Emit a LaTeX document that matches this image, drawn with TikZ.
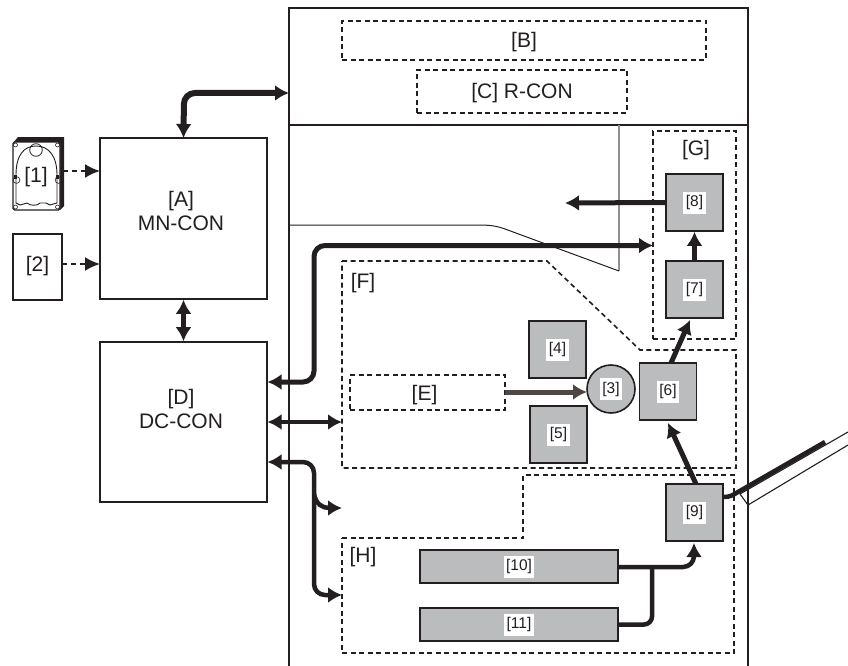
\documentclass[tikz,border=0pt]{standalone}
\usepackage{fontspec}
\setmainfont{Liberation Sans}
\usetikzlibrary{arrows.meta}
\definecolor{ink}{HTML}{231F20}
\definecolor{boxgray}{HTML}{BBBCBE}
\definecolor{feedbrown}{HTML}{4D4642}
\newcommand{\bigtext}{\fontsize{21}{24.5}\selectfont}
\newcommand{\smalltext}{\fontsize{15.5}{18}\selectfont}
\newcommand{\whitetag}[1]{\setlength{\fboxsep}{2.5pt}\colorbox{white}{\rule[-4.5pt]{0pt}{17pt}#1}}
\tikzset{
	conbox/.style={draw=ink,line width=1.6pt,fill=white,inner sep=0pt},
	graybox/.style={draw=ink,line width=1.6pt,fill=boxgray,inner sep=0pt,minimum width=57pt,minimum height=57pt,font=\smalltext,text=ink},
	dashbox/.style={draw=ink,dash pattern=on 5pt off 3.5pt,line width=1.6pt,inner sep=0pt,font=\bigtext,text=ink,text height=19pt,text depth=4pt},
	tagtext/.style={inner sep=0pt,font=\bigtext,text=ink,text height=19pt,text depth=4pt},
	context/.style={inner sep=0pt,font=\bigtext,text=ink,align=center},
	dashzone/.style={draw=ink,dash pattern=on 5pt off 3.5pt,line width=1.6pt},
	bus/.style={draw=ink,line width=5pt,-{Latex[length=14pt,width=16pt]},rounded corners=11pt},
	bibus/.style={draw=ink,line width=5pt,{Latex[length=14pt,width=16pt]}-{Latex[length=14pt,width=16pt]},rounded corners=11pt},
	signal/.style={draw=ink,line width=2pt,dash pattern=on 5pt off 4pt,-{Latex[length=15pt,width=14pt]}},
	frameline/.style={draw=ink,line width=1.5pt}
}
\begin{document}
\begin{tikzpicture}[x=1pt,y=-1pt]
\useasboundingbox (0,0) rectangle (848,666);

% machine frame
\draw[frameline] (289,666) -- (289,8) -- (748,8) -- (748,666);
\draw[draw=ink,line width=2.2pt] (289,125) -- (748,125);
\draw[draw=ink!50,line width=1.2pt] (619,125) -- (619,271);
\draw[draw=ink,line width=1pt] (289,225) -- (478,225) .. controls (490,225) and (497,226) .. (505,229) -- (619,271);

% zones
\draw[dashzone] (342,261) -- (547,261) -- (640,350) -- (736,350) -- (736,468) -- (342,468) -- cycle;
\draw[dashzone] (342,538) -- (523,538) -- (523,475) -- (734,475) -- (734,653) -- (342,653) -- cycle;
\node[tagtext] (labF) at (363,281) {[F]};
\node[tagtext] (labH) at (363,555) {[H]};

% controllers
\node[conbox,minimum width=167pt,minimum height=161pt] (mncon) at (183.5,218.5) {};
\node[conbox,minimum width=167pt,minimum height=160pt] (dccon) at (183.5,422) {};
\node[context] (mnlab) at (181,211) {[A]\\MN-CON};
\node[context] (dclab) at (181,409) {[D]\\DC-CON};
\node[dashbox,line width=2.8pt,minimum width=364pt,minimum height=39pt] (boxB) at (524,40.5) {[B]};
\node[dashbox,line width=2.2pt,minimum width=210pt,minimum height=43pt] (rcon) at (522,91.5) {[C] R-CON};
\node[dashbox,minimum width=155pt,minimum height=35pt] (boxE) at (427.5,392.5) {\hspace*{-6pt}[E]};
\node[dashbox,minimum width=83pt,minimum height=208pt] (zoneG) at (694.5,235) {};
\node[tagtext] (labG) at (696,148) {[G]};
\node[conbox,minimum width=49pt,minimum height=66pt] (ram) at (37.5,267) {};
\node[tagtext] (ramlab) at (37.5,264) {[2]};

% hard disk
\fill[ink] (13,143) -- (18,137) -- (64,137) -- (64,206) -- (60,210) -- (60,143) -- cycle;
\draw[ink,fill=white,line width=1.2pt,rounded corners=1.5pt] (13,142) rectangle (60,210);
\draw[ink,line width=0.9pt] (16,175) .. controls (16,155) and (24,146) .. (36,146) .. controls (48,146) and (57,155) .. (57,175)
	-- (57,203) -- (50,205) -- (46,203) -- (40,203) .. controls (38,206) and (30,206) .. (27,203) -- (20,205) -- (16,203) -- cycle;
\draw[ink,line width=0.8pt] (36,150) circle (6.3);
\foreach \x/\y in {15.5/145,57.5/145,15.5/207,57.5/207}
	\draw[ink,line width=0.6pt] (\x,\y) circle (2);
\foreach \x in {15.5,57.5}{
	\fill[ink] (\x-1.5,175) rectangle (\x+1.5,179);
	\draw[ink,line width=0.6pt] (\x+1,180) circle (3.4);
}
\node[tagtext] (hdd) at (36,175) {[1]};

% gray units
\foreach \name/\x/\y/\lab in {unitD/694.5/202.5/8, unitC/694.5/289.5/7, unitF/668/391.5/6,
	unitA/557.5/349.5/4, unitB/558.5/434.5/5, unitR/694.5/512.5/9}
	\node[graybox] (\name) at (\x,\y) {\whitetag{[\lab]}};
\node[graybox,minimum width=198pt,minimum height=33pt] (unitT) at (519,566.5) {\whitetag{[10]}};
\node[graybox,minimum width=198pt,minimum height=33pt] (unitU) at (519,624.5) {\whitetag{[11]}};
\node[graybox,circle,minimum width=48pt,minimum height=48pt] (drum) at (611,389) {\whitetag{[3]}};

% paper tray
\coordinate (trayA) at (740,494);
\coordinate (trayB) at (748,505);
\draw[ink,line width=1.1pt] (848,432) -- (trayA) -- (trayB) -- (848,445);
\coordinate (trayEnd) at (825,442);
\draw[draw=ink,line width=4.5pt] (unitR.east |- 0,497) .. controls (730,497) and (733,495) .. (738,492) -- (trayEnd);

% free ends of the connectors
\coordinate (hddOut) at (63,171);
\coordinate (hddIn) at (100,171);
\coordinate (ramIn) at (100,264);
\coordinate (ramOut) at (62,264);
\coordinate (upBus) at (289,93);
\coordinate (exitEnd) at (565,203);
\coordinate (dA) at (267.5,382);
\coordinate (gIn) at (653,245.5);
\coordinate (dB) at (267.5,422);
\coordinate (fIn) at (342,422);
\coordinate (dC) at (267.5,462);
\coordinate (stubIn) at (342,508);
\coordinate (hIn) at (342,595);
\coordinate (eOut) at (505,392);
\coordinate (drumIn) at (587,392);
\coordinate (tOut) at (618,567);
\coordinate (uOut) at (618,624.5);
\coordinate (rIn) at (694,543);

% signals and paths
\draw[signal] (hddOut) -- (hddIn);
\draw[signal] (ramOut) -- (ramIn);
\draw[bibus,line width=6pt] (upBus) -- (184,93) -- (mncon.south |- 0,138);
\draw[bibus] (mncon.south) -- (dccon.north);
\draw[bibus] (dA) -- (314,382) -- (314,245.5) -- (gIn);
\draw[bibus,line width=4pt] (dB) -- (fIn);
\draw[bibus,line width=4.5pt] (dC) -- (314,462) -- (314,595) -- (hIn);
\draw[bus,line width=4.5pt,rounded corners=0pt] (314,494) .. controls (316,504) and (322,508) .. (stubIn);
\draw[bus] (unitD.west) -- (exitEnd);
\draw[bus] (unitC.north) -- (unitD.south);
\draw[bus] (671,363) -- (690,320);
\draw[bus] (696,484) -- (668,423);
\draw[draw=feedbrown,line width=5pt,-{Latex[length=14pt,width=16pt]}] (eOut) -- (drumIn);
\draw[draw=ink,line width=4.5pt,rounded corners=8pt] (uOut) -- (652,624.5) -- (652,567);
\draw[bus,line width=4.5pt] (tOut) -- (694,567) -- (rIn);

\end{tikzpicture}
\end{document}
